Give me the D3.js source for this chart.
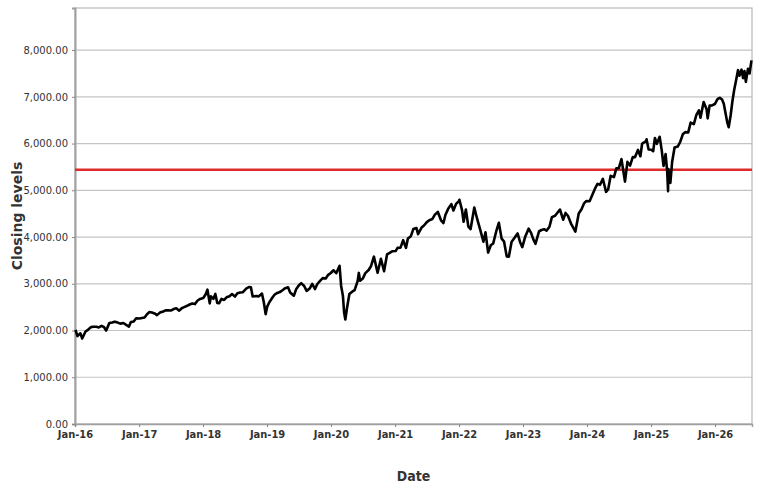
<!DOCTYPE html>
<html>
<head>
<meta charset="utf-8">
<script src="https://cdn.jsdelivr.net/npm/d3@7.9.0/dist/d3.min.js"></script>
<style>
  body { margin: 0; background: #fff; }
  svg text { font-family: "DejaVu Sans", sans-serif; fill: #333; }
</style>
</head>
<body>
<svg width="769" height="489"></svg>
<script>
// closing levels (roughly two points a month)
const dates = [
  "2016-01-04","2016-01-15","2016-02-01","2016-02-11","2016-03-01","2016-03-15","2016-04-01","2016-04-15","2016-05-02","2016-05-16","2016-06-01","2016-06-15","2016-06-27","2016-07-15","2016-08-01","2016-08-15","2016-09-01","2016-09-15","2016-10-03","2016-10-17","2016-11-04","2016-11-15","2016-12-01","2016-12-15",
  "2017-01-03","2017-01-17","2017-02-01","2017-02-15","2017-03-01","2017-03-15","2017-04-03","2017-04-13","2017-05-01","2017-05-15","2017-06-01","2017-06-15","2017-07-03","2017-07-17","2017-08-01","2017-08-18","2017-09-01","2017-09-15","2017-10-02","2017-10-16","2017-11-01","2017-11-15","2017-12-01","2017-12-15",
  "2018-01-02","2018-01-16","2018-01-26","2018-02-08","2018-02-15","2018-03-01","2018-03-12","2018-03-23","2018-04-02","2018-04-16","2018-05-01","2018-05-15","2018-06-01","2018-06-15","2018-07-02","2018-07-16","2018-08-01","2018-08-15","2018-09-04","2018-09-20","2018-10-01","2018-10-11","2018-11-01","2018-11-15","2018-12-03","2018-12-14","2018-12-24",
  "2019-01-02","2019-01-15","2019-02-01","2019-02-15","2019-03-01","2019-03-15","2019-04-01","2019-04-15","2019-05-01","2019-05-13","2019-06-03","2019-06-17","2019-07-01","2019-07-15","2019-08-01","2019-08-15","2019-09-03","2019-09-16","2019-10-02","2019-10-15","2019-11-01","2019-11-15","2019-12-02","2019-12-16","2019-12-31",
  "2020-01-15","2020-01-31","2020-02-19","2020-02-28","2020-03-09","2020-03-16","2020-03-23","2020-04-01","2020-04-15","2020-05-01","2020-05-15","2020-06-01","2020-06-08","2020-06-15","2020-07-01","2020-07-15","2020-08-03","2020-08-17","2020-09-02","2020-09-23","2020-10-12","2020-10-30","2020-11-16","2020-12-01","2020-12-15",
  "2021-01-04","2021-01-15","2021-02-01","2021-02-16","2021-03-04","2021-03-15","2021-04-01","2021-04-15","2021-05-03","2021-05-12","2021-06-01","2021-06-15","2021-07-01","2021-07-15","2021-08-02","2021-08-16","2021-09-02","2021-09-20","2021-10-04","2021-10-15","2021-11-01","2021-11-18","2021-11-30","2021-12-15","2021-12-31",
  "2022-01-03","2022-01-18","2022-01-27","2022-02-09","2022-02-23","2022-03-08","2022-03-29","2022-04-14","2022-05-02","2022-05-20","2022-06-01","2022-06-16","2022-07-01","2022-07-15","2022-08-01","2022-08-16","2022-09-01","2022-09-15","2022-09-30","2022-10-12","2022-10-28","2022-11-15","2022-12-01","2022-12-15","2022-12-28",
  "2023-01-13","2023-02-02","2023-02-16","2023-03-01","2023-03-13","2023-04-03","2023-04-17","2023-05-01","2023-05-15","2023-06-01","2023-06-15","2023-07-03","2023-07-31","2023-08-18","2023-09-01","2023-09-15","2023-10-02","2023-10-27","2023-11-15","2023-12-01","2023-12-15","2023-12-29",
  "2024-01-16","2024-02-01","2024-02-15","2024-03-01","2024-03-15","2024-04-01","2024-04-19","2024-05-01","2024-05-15","2024-06-03","2024-06-17","2024-07-01","2024-07-16","2024-08-05","2024-08-19","2024-09-03","2024-09-19","2024-10-01","2024-10-18","2024-11-01","2024-11-11","2024-12-02","2024-12-06","2024-12-18",
  "2025-01-02","2025-01-13","2025-01-23","2025-02-03","2025-02-19","2025-03-03","2025-03-13","2025-03-25","2025-04-03","2025-04-08","2025-04-09","2025-04-21","2025-05-01","2025-05-15","2025-06-02","2025-06-16","2025-07-01","2025-07-15","2025-08-01","2025-08-15","2025-09-02","2025-09-16","2025-10-01","2025-10-10","2025-10-28","2025-11-14","2025-11-20","2025-12-01","2025-12-15","2025-12-31",
  "2026-01-15","2026-01-28","2026-02-10","2026-02-20","2026-03-02","2026-03-12","2026-03-20","2026-03-31","2026-04-10","2026-04-20","2026-05-01","2026-05-12","2026-05-20","2026-06-01","2026-06-10","2026-06-18","2026-06-26","2026-07-08","2026-07-17","2026-07-28"
];
const closes = [
  2012,1880,1940,1829,1978,2015,2072,2080,2081,2066,2099,2071,2000,2161,2170,2190,2170,2147,2161,2126,2085,2180,2191,2262,
  2258,2268,2279,2349,2395,2385,2359,2329,2388,2402,2430,2432,2429,2460,2476,2425,2477,2500,2529,2557,2579,2565,2642,2675,
  2695,2776,2873,2581,2731,2678,2783,2588,2582,2677,2654,2711,2735,2779,2726,2798,2813,2818,2896,2931,2924,2728,2740,2730,2790,2600,2351,
  2510,2610,2707,2775,2804,2822,2868,2906,2924,2812,2744,2890,2964,3014,2953,2848,2906,2997,2887,2995,3067,3120,3113,3191,3231,
  3289,3226,3386,2954,2746,2386,2237,2470,2783,2830,2863,3055,3232,3066,3115,3227,3294,3381,3580,3237,3534,3270,3627,3662,3695,
  3700,3768,3773,3932,3768,3968,4019,4170,4192,4063,4202,4246,4319,4360,4387,4479,4537,4358,4300,4471,4613,4704,4567,4709,4766,
  4797,4577,4326,4587,4225,4170,4632,4392,4155,3901,4101,3667,3825,3863,4119,4305,3966,3901,3586,3577,3901,3991,4076,3895,3783,
  3999,4179,4090,3951,3855,4124,4151,4167,4136,4221,4426,4455,4589,4370,4515,4450,4288,4117,4502,4594,4719,4770,
  4766,4906,5030,5137,5117,5243,4967,5018,5308,5283,5473,5475,5667,5186,5608,5528,5713,5708,5864,5728,6001,6047,6090,5872,
  5868,5836,6118,5994,6144,5849,5521,5776,5396,4982,5457,5158,5604,5916,5935,6033,6198,6244,6238,6449,6415,6606,6711,6552,6890,6734,6538,6812,6816,6846,
  6950,6980,6940,6850,6650,6450,6350,6600,6900,7140,7350,7570,7450,7580,7400,7550,7320,7600,7500,7780
];
const refLevel = 5440;
const yTicks = [0, 1000, 2000, 3000, 4000, 5000, 6000, 7000, 8000];
const xTickYears = [2016, 2017, 2018, 2019, 2020, 2021, 2022, 2023, 2024, 2025, 2026];

const parse = d3.timeParse("%Y-%m-%d");
const data = dates.map((d, i) => ({ date: parse(d), value: closes[i] }));

const svg = d3.select("svg");
const margin = { top: 8, right: 17, bottom: 65, left: 75 };
const width = 769 - margin.left - margin.right;
const height = 489 - margin.top - margin.bottom;
const g = svg.append("g").attr("transform", `translate(${margin.left},${margin.top})`);

const x = d3.scaleTime()
  .domain([new Date(2016, 0, 1), new Date(2026, 6, 31)])
  .range([0, width]);
const y = d3.scaleLinear().domain([0, 8900]).range([height, 0]);

// horizontal grid
g.selectAll(".grid")
  .data(yTicks)
  .enter()
  .append("line")
  .attr("x1", 0).attr("x2", width)
  .attr("y1", d => y(d)).attr("y2", d => y(d))
  .attr("stroke", "#c4c4c4")
  .attr("stroke-width", 1.2);

// plot frame
g.append("rect")
  .attr("width", width).attr("height", height)
  .attr("fill", "none")
  .attr("stroke", "#b8b8b8")
  .attr("stroke-width", 1.2);

// y axis
const yAxis = g.append("g")
  .call(d3.axisLeft(y).tickValues(yTicks).tickSize(3).tickFormat(d3.format(",.2f")));
yAxis.select(".domain").attr("stroke", "#a0a0a0").attr("stroke-width", 2);
yAxis.selectAll(".tick line").attr("stroke", "#888");
yAxis.selectAll("text").attr("font-size", 10).attr("fill", "#333").attr("dx", -1);

// x axis
const xAxis = g.append("g")
  .attr("transform", `translate(0,${height})`)
  .call(d3.axisBottom(x)
    .tickValues(xTickYears.map(yr => new Date(yr, 0, 1)))
    .tickSize(3)
    .tickFormat(d3.timeFormat("%b-%y")));
xAxis.select(".domain").attr("stroke", "#a0a0a0").attr("stroke-width", 1.5);
xAxis.selectAll(".tick line").attr("stroke", "#888");
xAxis.selectAll("text")
  .style("font-family", "'DejaVu Sans Condensed', 'DejaVu Sans', sans-serif")
  .attr("font-size", 11).attr("font-weight", "bold").attr("fill", "#222").attr("dy", "0.75em");

// reference line
g.append("line")
  .attr("x1", 0).attr("x2", width)
  .attr("y1", y(refLevel)).attr("y2", y(refLevel))
  .attr("stroke", "#e02b2b")
  .attr("stroke-width", 2.5);

// closing levels
const line = d3.line().x(d => x(d.date)).y(d => y(d.value));
g.append("path")
  .datum(data)
  .attr("d", line)
  .attr("fill", "none")
  .attr("stroke", "#000")
  .attr("stroke-width", 2.6)
  .attr("stroke-linejoin", "round");

// axis titles
svg.append("text")
  .attr("transform", `translate(22,${margin.top + height / 2}) rotate(-90)`)
  .attr("text-anchor", "middle")
  .attr("font-size", 14)
  .attr("font-weight", "bold")
  .attr("fill", "#3a3a3a")
  .text("Closing levels");

svg.append("text")
  .attr("x", margin.left + width / 2)
  .attr("y", 481)
  .attr("text-anchor", "middle")
  .style("font-family", "'DejaVu Sans Condensed', 'DejaVu Sans', sans-serif")
  .attr("font-size", 14)
  .attr("font-weight", "bold")
  .attr("fill", "#222")
  .text("Date");
</script>
</body>
</html>
